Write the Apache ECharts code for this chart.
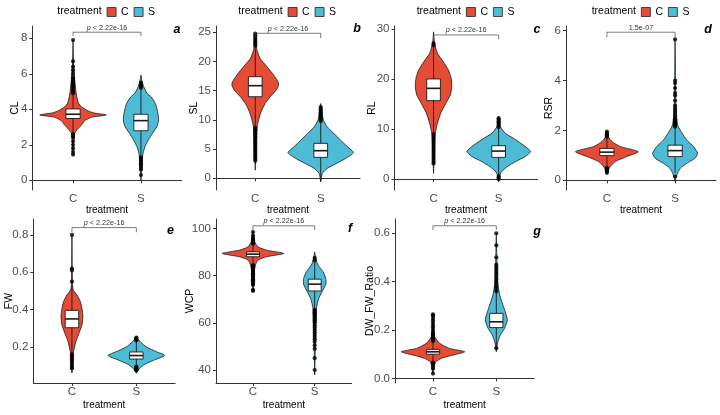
<!DOCTYPE html>
<html>
<head>
<meta charset="utf-8">
<script src="https://cdn.jsdelivr.net/npm/echarts@6/dist/echarts.min.js"></script>
<style>
  * { margin: 0; padding: 0; }
  #main { width: 720px; height: 415px; background: #fff; }
</style>
</head>
<body>
<div id="main"></div>
<script>
// groups and panel labels
var groups = ['C', 'S'];
var yNames = ['CL', 'SL', 'RL', 'RSR', 'FW', 'WCP', 'DW_FW_Ratio'];
var tags = ['a', 'b', 'c', 'd', 'e', 'f', 'g'];
var pTexts = ['p < 2.22e-16', 'p < 2.22e-16', 'p < 2.22e-16', '1.5e-07', 'p < 2.22e-16', 'p < 2.22e-16', 'p < 2.22e-16'];
var yTicks = [[0, 2, 4, 6, 8], [0, 5, 10, 15, 20, 25], [0, 10, 20, 30], [0, 2, 4, 6], [0.2, 0.4, 0.6, 0.8], [40, 60, 80, 100], [0, 0.2, 0.4, 0.6]];
var yDecimals = [0, 0, 0, 0, 1, 0, 1];
var yRanges = [[-0.546, 8.69], [-2.0, 26.08], [-2.2, 30.66], [-0.389, 6.19], [0.007, 0.885], [34.5, 104.0], [-0.019, 0.659]];

// violin outlines: [value, half width in x units]
var violinCL_C = [[1.4, 0], [2.0, 0.006], [2.4, 0.012], [2.65, 0.025], [2.85, 0.06], [3.1, 0.12], [3.35, 0.17], [3.55, 0.27], [3.68, 0.49], [3.8, 0.3], [3.95, 0.2], [4.15, 0.12], [4.35, 0.08], [4.8, 0.05], [5.3, 0.035], [5.8, 0.02], [6.5, 0.008], [7.9, 0]];
var violinCL_S = [[0.0, 0], [0.6, 0.008], [1.2, 0.02], [1.52, 0.03], [1.9, 0.06], [2.28, 0.11], [2.65, 0.17], [3.03, 0.235], [3.4, 0.26], [3.87, 0.245], [4.34, 0.21], [4.7, 0.15], [4.9, 0.09], [5.28, 0.04], [5.6, 0.015], [5.93, 0]];
var violinSL_C = [[1.4, 0], [3, 0.006], [5, 0.012], [7, 0.02], [8.8, 0.028], [10, 0.05], [11.4, 0.09], [12.8, 0.15], [14, 0.23], [15.1, 0.32], [15.9, 0.356], [16.5, 0.35], [17.7, 0.28], [19.1, 0.18], [20.5, 0.076], [22, 0.025], [23.5, 0.008], [24.8, 0]];
var violinSL_S = [[-0.6, 0], [0.85, 0.025], [1.7, 0.1], [2.5, 0.23], [3.4, 0.38], [4.4, 0.5], [5.4, 0.41], [6.56, 0.3], [7.7, 0.2], [8.8, 0.1], [10, 0.04], [11.7, 0.015], [12.8, 0]];
var violinRL_C = [[1.1, 0], [3, 0.006], [6, 0.012], [9.1, 0.026], [11.2, 0.06], [13.2, 0.11], [15.2, 0.19], [16.9, 0.26], [18.6, 0.28], [20.2, 0.27], [21.8, 0.23], [23.5, 0.15], [25.2, 0.06], [27.2, 0.015], [29.5, 0]];
var violinRL_S = [[-0.5, 0], [0.5, 0.01], [1.4, 0.04], [2.45, 0.13], [3.5, 0.26], [4.5, 0.41], [5.5, 0.49], [6.5, 0.41], [7.9, 0.26], [9.2, 0.1], [10.5, 0.026], [11.5, 0.01], [12.5, 0]];
var violinRSR_C = [[0.28, 0], [0.4, 0.02], [0.55, 0.05], [0.75, 0.12], [0.95, 0.29], [1.15, 0.46], [1.35, 0.2], [1.5, 0.1], [1.62, 0.05], [1.8, 0.015], [1.95, 0]];
var violinRSR_S = [[-0.05, 0], [0.21, 0.025], [0.48, 0.075], [0.68, 0.17], [0.88, 0.29], [1.08, 0.33], [1.35, 0.27], [1.62, 0.17], [1.9, 0.1], [2.2, 0.04], [2.6, 0.02], [3.2, 0.01], [4.2, 0.005], [5.7, 0]];
var violinFW_C = [[0.06, 0], [0.12, 0.01], [0.175, 0.026], [0.228, 0.06], [0.273, 0.11], [0.318, 0.155], [0.363, 0.17], [0.407, 0.155], [0.443, 0.13], [0.478, 0.078], [0.495, 0.04], [0.51, 0.015], [0.55, 0.008], [0.62, 0.004], [0.8, 0]];
var violinFW_S = [[0.059, 0], [0.085, 0.05], [0.107, 0.13], [0.131, 0.285], [0.154, 0.44], [0.175, 0.31], [0.2, 0.155], [0.228, 0.06], [0.245, 0.02], [0.255, 0]];
var violinWCP_C = [[73.2, 0], [78, 0.008], [82, 0.02], [84.5, 0.04], [86.6, 0.08], [88.0, 0.22], [89.4, 0.5], [90.8, 0.22], [92.2, 0.08], [94.4, 0.027], [96.5, 0.01], [98.6, 0]];
var violinWCP_S = [[37.9, 0], [45, 0.006], [55, 0.012], [62, 0.02], [66.1, 0.027], [70.3, 0.065], [73.2, 0.12], [76.4, 0.18], [78.8, 0.18], [81.6, 0.135], [84.5, 0.054], [87, 0.02], [90, 0]];
var violinDW_C = [[0.017, 0], [0.05, 0.02], [0.069, 0.045], [0.083, 0.135], [0.093, 0.26], [0.11, 0.5], [0.124, 0.26], [0.145, 0.105], [0.172, 0.026], [0.2, 0.012], [0.24, 0.006], [0.269, 0]];
var violinDW_S = [[0.11, 0], [0.13, 0.01], [0.152, 0.026], [0.179, 0.063], [0.207, 0.13], [0.241, 0.174], [0.276, 0.14], [0.303, 0.105], [0.345, 0.053], [0.4, 0.02], [0.5, 0.008], [0.6, 0]];

// box stats: [low whisker, q1, median, q3, high whisker]
var boxC = [[2.7, 3.48, 3.72, 4.02, 4.83], [9.0, 13.97, 15.86, 17.4, 22.5], [9.2, 15.7, 18.17, 20.05, 26.6], [0.55, 0.99, 1.13, 1.28, 1.72], [0.165, 0.303, 0.35, 0.396, 0.53], [85, 88, 89.1, 90.1, 93], [0.07, 0.1, 0.11, 0.12, 0.15]];
var boxS = [[1.4, 2.79, 3.36, 3.72, 5.1], [-0.5, 3.59, 4.73, 5.99, 9.6], [0.8, 4.34, 5.6, 6.68, 10.2], [0.3, 0.95, 1.19, 1.41, 2.1], [0.1, 0.135, 0.154, 0.173, 0.23], [66, 73.5, 76.4, 78.5, 86], [0.13, 0.21, 0.234, 0.269, 0.357]];

// outliers
var outCL_C = [4.9, 5.0, 5.1, 5.2, 5.3, 5.4, 5.5, 5.55, 5.6, 5.7, 5.8, 6.0, 6.2, 6.4, 6.7, 7.9, 2.6, 2.5, 2.4, 2.2, 2.0, 1.8, 1.6, 1.45];
var outCL_S = [5.2, 5.3, 5.4, 5.5, 1.3, 1.2, 1.1, 1.0, 0.9, 0.8, 0.7, 0.6, 0.3];
var outSL_C = [22.7, 23.0, 23.3, 23.6, 23.9, 24.2, 24.5, 24.8, 8.7, 8.4, 8.1, 7.8, 7.5, 7.2, 6.9, 6.6, 6.3, 6.0, 5.7, 5.4, 5.1, 4.8, 4.5, 4.2, 3.9, 3.6, 3.3, 3.0];
var outSL_S = [9.8, 10.1, 10.4, 10.7, 11.0, 11.3, 11.6, 11.9, 12.2];
var outRL_C = [26.8, 27.2, 9.0, 8.6, 8.2, 7.8, 7.4, 7.0, 6.6, 6.2, 5.8, 5.4, 5.0, 4.6, 4.2, 3.8, 3.4, 3.1];
var outRL_S = [10.4, 10.7, 11.0, 11.3, 11.6, 11.9, 12.2, 0.6, 0.3, 0.0];
var outRSR_C = [1.75, 1.8, 1.85, 1.9, 1.95, 0.5, 0.45, 0.4, 0.35, 0.3];
var outRSR_S = [2.15, 2.2, 2.25, 2.3, 2.35, 2.4, 2.45, 2.5, 2.6, 2.7, 2.8, 2.9, 3.0, 3.2, 3.4, 3.5, 3.7, 3.9, 4.0, 5.65, 0.15];
var outFW_C = [0.55, 0.61, 0.62, 0.8, 0.16, 0.15, 0.14, 0.13, 0.12, 0.11, 0.1, 0.09, 0.085];
var outFW_S = [0.235, 0.24, 0.245, 0.25, 0.095, 0.09, 0.085, 0.08, 0.075];
var outWCP_C = [93.5, 94, 94.5, 95, 95.5, 96, 97, 98.5, 84.5, 84, 83.5, 83, 82.5, 82, 81.5, 81, 80.5, 80, 79.5, 79, 78.5, 78, 77.5, 77, 76.5, 76, 74, 73.5];
var outWCP_S = [86.5, 87.5, 65.5, 65, 64.5, 64, 63.5, 63, 62.5, 62, 61.5, 61, 60.5, 60, 59, 58, 57, 56, 55, 54, 53, 52, 50.5, 49, 45, 40];
var outDW_C = [0.155, 0.16, 0.165, 0.17, 0.175, 0.18, 0.185, 0.19, 0.2, 0.21, 0.22, 0.23, 0.24, 0.25, 0.26, 0.265, 0.065, 0.06, 0.05, 0.04, 0.02];
var outDW_S = [0.36, 0.37, 0.38, 0.39, 0.4, 0.41, 0.42, 0.43, 0.44, 0.45, 0.46, 0.47, 0.5, 0.55, 0.6, 0.125];

// significance bracket: [line value, tip value]
var bracketY = [[8.34, 8.13], [24.83, 24.0], [28.86, 28.0], [5.94, 5.74], [0.839, 0.814], [101.1, 99.3], [0.631, 0.614]];

var violinsC = [violinCL_C, violinSL_C, violinRL_C, violinRSR_C, violinFW_C, violinWCP_C, violinDW_C];
var violinsS = [violinCL_S, violinSL_S, violinRL_S, violinRSR_S, violinFW_S, violinWCP_S, violinDW_S];
var outC = [outCL_C, outSL_C, outRL_C, outRSR_C, outFW_C, outWCP_C, outDW_C];
var outS = [outCL_S, outSL_S, outRL_S, outRSR_S, outFW_S, outWCP_S, outDW_S];

// layout
var colors = { C: '#E64B35', S: '#4DBBD5' };
var grids = [
  { left: 32.3, top: 26, width: 149.4, height: 164 },
  { left: 216, top: 26, width: 144, height: 164 },
  { left: 394.5, top: 26, width: 143.2, height: 164 },
  { left: 566, top: 26, width: 150, height: 164 },
  { left: 33.3, top: 219, width: 141.7, height: 164 },
  { left: 216, top: 219, width: 135.7, height: 164 },
  { left: 395, top: 219, width: 139.3, height: 164 }
];
var yNameGap = [11.3, 16.7, 16.8, 11.7, 19, 20, 19];
var tagPos = [[177, 29.5], [357, 29], [537, 30], [708, 29.5], [170.5, 230.5], [350, 229], [537, 232]];
var legendBoxX = [106.7, 287.7, 466, 641];
var boxHalf = 0.105;
var font = 'Liberation Sans, Arial, Helvetica, sans-serif';

function violinRender(profile, center) {
  return function (params, api) {
    var right = profile.map(function (p) { return api.coord([center + p[1], p[0]]); });
    var left = profile.slice().reverse().map(function (p) { return api.coord([center - p[1], p[0]]); });
    return {
      type: 'polygon',
      shape: { points: right.concat(left), smooth: 0.2 },
      style: { fill: api.visual('color'), stroke: '#1a1a1a', lineWidth: 0.8 }
    };
  };
}

function boxRender(params, api) {
  var x = api.value(0);
  var lo = api.coord([x, api.value(1)]);
  var q1 = api.coord([x, api.value(2)]);
  var med = api.coord([x, api.value(3)]);
  var q3 = api.coord([x, api.value(4)]);
  var hi = api.coord([x, api.value(5)]);
  var l = api.coord([x - boxHalf, api.value(3)])[0];
  var r = api.coord([x + boxHalf, api.value(3)])[0];
  return {
    type: 'group',
    children: [
      { type: 'line', shape: { x1: lo[0], y1: lo[1], x2: hi[0], y2: hi[1] }, style: { stroke: '#1a1a1a', lineWidth: 0.9 } },
      { type: 'rect', shape: { x: l, y: q3[1], width: r - l, height: q1[1] - q3[1] }, style: { fill: '#fff', stroke: '#1a1a1a', lineWidth: 0.9 } },
      { type: 'line', shape: { x1: l, y1: med[1], x2: r, y2: med[1] }, style: { stroke: '#1a1a1a', lineWidth: 1.6 } }
    ]
  };
}

function bracketRender(text) {
  return function (params, api) {
    var a0 = api.coord([api.value(0), api.value(3)]);
    var a1 = api.coord([api.value(0), api.value(2)]);
    var b1 = api.coord([api.value(1), api.value(2)]);
    var b0 = api.coord([api.value(1), api.value(3)]);
    var italic = text.indexOf('p ') === 0;
    return {
      type: 'group',
      children: [
        { type: 'polyline', shape: { points: [a0, a1, b1, b0] }, style: { stroke: '#444', lineWidth: 0.7, fill: null } },
        {
          type: 'text',
          x: (a1[0] + b1[0]) / 2, y: a1[1] - 1,
          style: {
            text: italic ? '{i|p}' + text.slice(1) : text,
            fontSize: 7.2, fontFamily: font, fill: '#333',
            align: 'center', verticalAlign: 'bottom',
            rich: { i: { fontStyle: 'italic', fontSize: 7.2, fontFamily: font, fill: '#333' } }
          }
        }
      ]
    };
  };
}

var xAxes = [], yAxes = [], series = [], graphics = [], legends = [];
grids.forEach(function (g, i) {
  var top = i < 4;
  xAxes.push({
    gridIndex: i, type: 'value', min: 0.4, max: 2.6,
    name: 'treatment', nameLocation: 'middle', nameGap: top ? 15.5 : 17, nameMoveOverlap: false,
    nameTextStyle: { fontSize: 10, color: '#000', fontFamily: font },
    axisLine: { lineStyle: { color: '#333', width: 1 } },
    axisTick: { length: 3, lineStyle: { color: '#333' }, customValues: [1, 2] },
    axisLabel: { customValues: [1, 2], margin: 3, fontSize: 11.5, color: '#4d4d4d', fontFamily: font,
      formatter: function (v) { return groups[Math.round(v) - 1]; } },
    splitLine: { show: false }
  });
  yAxes.push({
    gridIndex: i, type: 'value', min: yRanges[i][0], max: yRanges[i][1],
    name: yNames[i], nameLocation: 'middle', nameGap: yNameGap[i], nameMoveOverlap: false,
    nameTextStyle: { fontSize: 10.5, color: '#000', fontFamily: font },
    axisLine: { show: true, lineStyle: { color: '#333', width: 1 } },
    axisTick: { show: true, length: 3, lineStyle: { color: '#333' }, customValues: yTicks[i] },
    axisLabel: { customValues: yTicks[i], margin: 5, fontSize: 11.5, color: '#4d4d4d', fontFamily: font,
      formatter: (function (d) { return function (v) { return v.toFixed(d); }; })(yDecimals[i]) },
    splitLine: { show: false }
  });
  series.push({
    type: 'custom', name: 'C', xAxisIndex: i, yAxisIndex: i, z: 2,
    itemStyle: { color: colors.C }, data: [[1]], renderItem: violinRender(violinsC[i], 1), silent: true
  });
  series.push({
    type: 'custom', name: 'S', xAxisIndex: i, yAxisIndex: i, z: 2,
    itemStyle: { color: colors.S }, data: [[2]], renderItem: violinRender(violinsS[i], 2), silent: true
  });
  series.push({
    type: 'custom', xAxisIndex: i, yAxisIndex: i, z: 3, silent: true,
    data: [[1].concat(boxC[i]), [2].concat(boxS[i])], renderItem: boxRender
  });
  series.push({
    type: 'scatter', xAxisIndex: i, yAxisIndex: i, z: 4, silent: true,
    symbolSize: 4.2, itemStyle: { color: '#000' },
    data: outC[i].map(function (v) { return [1, v]; }).concat(outS[i].map(function (v) { return [2, v]; }))
  });
  series.push({
    type: 'custom', xAxisIndex: i, yAxisIndex: i, z: 5, silent: true,
    data: [[1, 2, bracketY[i][0], bracketY[i][1]]], renderItem: bracketRender(pTexts[i])
  });
  graphics.push({
    type: 'text', x: tagPos[i][0], y: tagPos[i][1],
    style: { text: tags[i], fontSize: 12.5, fontWeight: 'bold', fontStyle: 'italic', fontFamily: font,
      fill: '#000', align: 'center', verticalAlign: 'middle' }
  });
  if (top) {
    legends.push({
      left: legendBoxX[i], top: 6.5, padding: 0, itemGap: 5,
      itemWidth: 9, itemHeight: 9, icon: 'rect', selectedMode: false,
      itemStyle: { borderColor: '#222', borderWidth: 0.8 },
      textStyle: { fontSize: 10.5, color: '#000', fontFamily: font },
      data: groups
    });
    graphics.push({
      type: 'text', x: legendBoxX[i] - 5, y: 11,
      style: { text: 'treatment', fontSize: 10.5, fontFamily: font, fill: '#000', align: 'right', verticalAlign: 'middle' }
    });
  }
});

var chart = echarts.init(document.getElementById('main'));
chart.setOption({
  animation: false,
  backgroundColor: '#fff',
  grid: grids,
  xAxis: xAxes,
  yAxis: yAxes,
  legend: legends,
  graphic: graphics,
  series: series
});
</script>
</body>
</html>
